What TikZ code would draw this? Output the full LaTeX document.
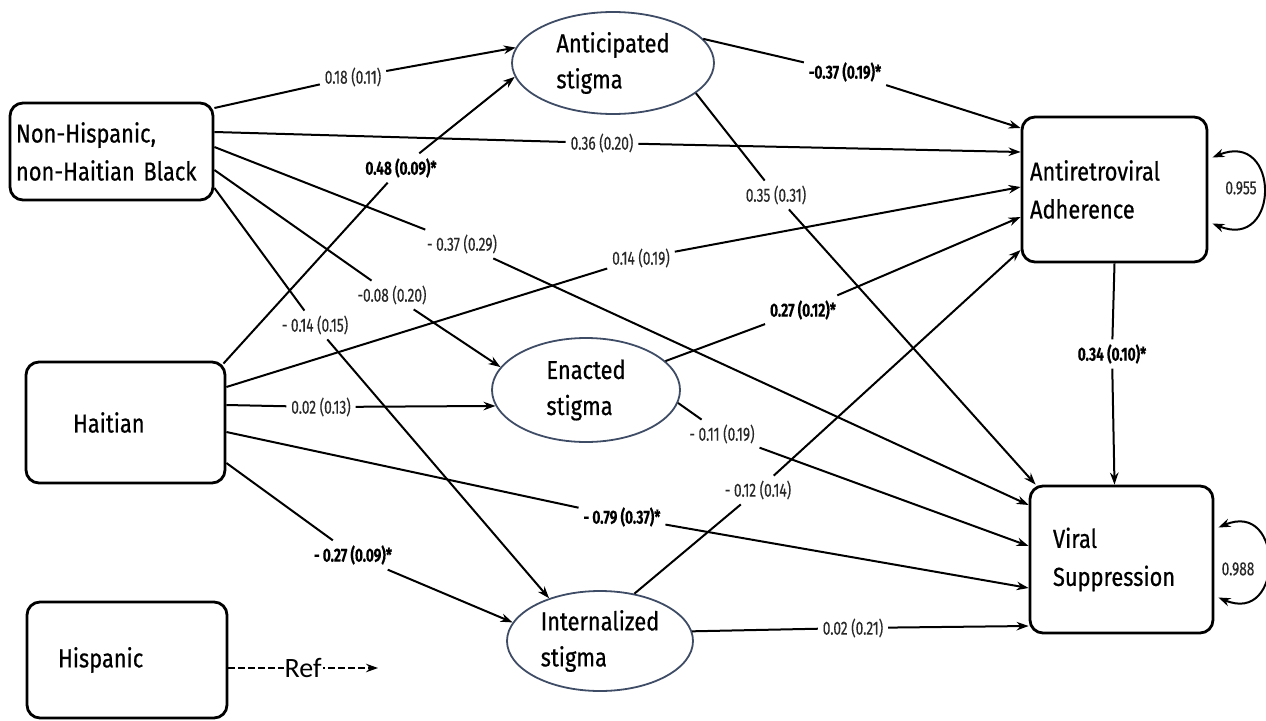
\documentclass[tikz,border=0pt]{standalone}
\usepackage{fontspec}
\setmainfont{Fira Sans}[FakeStretch=0.84,FakeBold=0.6]
\newfontfamily\pathfont{Fira Sans}[FakeStretch=0.72,FakeBold=0.3]
\newfontfamily\reffont{Carlito}
\usetikzlibrary{arrows.meta,shapes.geometric}
\definecolor{latentline}{RGB}{62,76,102}
\definecolor{coefgray}{RGB}{40,40,40}

\begin{document}
\begin{tikzpicture}[x=1pt,y=-1pt,>={Stealth[length=12pt,width=8.5pt]},line width=2pt,
var/.style={draw,line width=2.8pt,rounded corners=13pt,align=left,inner ysep=0pt,font=\fontsize{26}{38}\selectfont},
latent/.style={ellipse,draw=latentline,line width=1.8pt,align=left,inner sep=0pt,font=\fontsize{26}{36}\selectfont},
coef/.style={font=\pathfont\fontsize{19}{21}\selectfont,text=coefgray,inner sep=4pt},
sig/.style={coef,font=\pathfont\fontsize{19}{21}\selectfont\bfseries,text=black}]
\useasboundingbox (0,0) rectangle (1266,720);

% observed variables
\node[var,minimum height=97pt,inner xsep=6pt,text width=191pt] (nhb) at (111.5,151.5) {Non-Hispanic,\\non-Haitian Black};
\node[var,minimum height=121pt,inner xsep=47pt,text width=105pt] (haitian) at (125.5,422.5) {Haitian};
\node[var,minimum height=116pt,inner xsep=31pt,text width=138pt] (hispanic) at (127,660) {Hispanic};
\node[var,minimum height=145pt,inner xsep=8pt,text width=169pt] (adher) at (1114.5,189.5) {Antiretroviral\\Adherence};
\node[var,minimum height=147pt,inner xsep=23pt,text width=137pt] (viral) at (1121.5,559.5) {Viral\\Suppression};

% stigma
\node[latent,minimum width=202pt,minimum height=102pt] (antic) at (613,63) {Anticipated\\stigma};
\node[latent,minimum width=188pt,minimum height=104pt] (enact) at (586,390) {Enacted\\stigma};
\node[latent,minimum width=186pt,minimum height=100pt] (intern) at (600,641) {Internalized\\stigma};

% coefficients
\node[coef] (nhbAnt) at (353,77) {0.18 (0.11)};
\node[coef] (nhbAdh) at (602,143) {0.36 (0.20)};
\node[coef] (nhbVir) at (462,244) {- 0.37 (0.29)};
\node[coef] (nhbEna) at (392,295) {-0.08 (0.20)};
\node[coef] (nhbInt) at (315,325) {- 0.14 (0.15)};
\node[sig] (haiAnt) at (401,168) {0.48 (0.09)*};
\node[coef] (haiAdh) at (641,258) {0.14 (0.19)};
\node[coef] (haiEna) at (321,407) {0.02 (0.13)};
\node[sig] (haiVir) at (622,517) {- 0.79 (0.37)*};
\node[sig] (haiInt) at (353,555) {- 0.27 (0.09)*};
\node[sig] (antAdh) at (845,72) {-0.37 (0.19)*};
\node[coef] (antVir) at (776,195) {0.35 (0.31)};
\node[sig] (enaAdh) at (803,310) {0.27 (0.12)*};
\node[coef] (enaVir) at (722,434) {- 0.11 (0.19)};
\node[coef] (intAdh) at (758,490) {- 0.12 (0.14)};
\node[coef] (intVir) at (853,628) {0.02 (0.21)};
\node[sig] (adhVir) at (1112,354) {0.34 (0.10)*};
\node[coef] (adhRes) at (1241,188) {0.955};
\node[coef] (virRes) at (1238,569) {0.988};

% paths from Non-Hispanic, non-Haitian Black
\draw ([yshift=43.5pt]nhb.east) -- (nhbAnt);
\draw[->] (nhbAnt) -- (antic.171);
\draw ([yshift=19.5pt]nhb.east) -- (nhbAdh);
\draw[->] (nhbAdh) -- ([yshift=37.5pt]adher.west);
\draw ([yshift=4.5pt]nhb.east) -- (nhbVir);
\draw[->] (nhbVir) -- ([yshift=54.5pt]viral.west);
\draw ([yshift=-18.5pt]nhb.east) -- (nhbEna);
\draw[->] (nhbEna) -- (enact.165);
\draw ([yshift=-36.5pt]nhb.east) -- (nhbInt);
\draw[->] (nhbInt) -- (intern.140);

% paths from Haitian
\draw ([shift={(-3pt,-3pt)}]haitian.north east) -- (haiAnt);
\draw[->] (haiAnt) -- (antic.188);
\draw ([yshift=35.5pt]haitian.east) -- (haiAdh);
\draw[->] (haiAdh) -- ([yshift=2.5pt]adher.west);
\draw ([yshift=17.5pt]haitian.east) -- (haiEna);
\draw[->] (haiEna) -- (enact.190);
\draw ([yshift=-9.5pt]haitian.east) -- (haiVir);
\draw[->] (haiVir) -- ([yshift=-28.5pt]viral.west);
\draw ([yshift=-40.5pt]haitian.east) -- (haiInt);
\draw[->] (haiInt) -- (intern.168);

% paths from stigma
\draw (antic.15) -- (antAdh);
\draw[->] (antAdh) -- ([yshift=61.5pt]adher.west);
\draw (antic.340) -- (antVir);
\draw[->] (antVir) -- ([xshift=7pt]viral.north west);
\draw (enact.20) -- (enaAdh);
\draw[->] (enaAdh) -- ([yshift=-27.5pt]adher.west);
\draw (enact.352) -- (enaVir);
\draw[->] (enaVir) -- ([yshift=13.5pt]viral.west);
\draw (intern.54) -- (intAdh);
\draw[->] (intAdh) -- ([yshift=-60.5pt]adher.west);
\draw (intern.6) -- (intVir);
\draw[->] (intVir) -- ([yshift=-66.5pt]viral.west);

% adherence -> suppression, residuals
\draw (adher.south) -- (adhVir);
\draw[->] (adhVir) -- (viral.north -| adher.south);
\draw[<->] ([shift={(4pt,32pt)}]adher.east) .. controls +(68pt,28pt) and +(68pt,-28pt) .. ([shift={(4pt,-34pt)}]adher.east);
\draw[<->] ([shift={(4pt,32pt)}]viral.east) .. controls +(66pt,28pt) and +(66pt,-28pt) .. ([shift={(4pt,-38pt)}]viral.east);

% reference group
\coordinate (refend) at (378,668);
\draw[->,line width=1.8pt,dash pattern=on 7pt off 3pt] ([yshift=-8pt]hispanic.east) -- node[fill=white,inner sep=1pt,font=\reffont\fontsize{28}{30}\selectfont]{Ref} (refend);
\end{tikzpicture}
\end{document}
